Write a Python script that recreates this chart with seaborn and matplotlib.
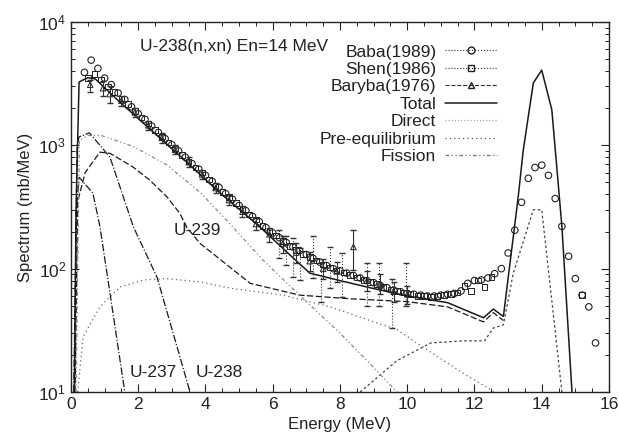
import numpy as np
import pandas as pd
import matplotlib
matplotlib.use("Agg")
import matplotlib.pyplot as plt
import seaborn as sns
from matplotlib.lines import Line2D
from matplotlib.ticker import MultipleLocator, LogLocator, LogFormatterMathtext, NullFormatter

# ---------------- data ----------------
baba_E = [0.4, 0.6, 0.8, 1.0, 1.2, 1.4, 1.6, 1.8, 2.0, 2.2, 2.4, 2.6, 2.8, 3.0, 3.2, 3.4, 3.6, 3.8,
          4.0, 4.2, 4.4, 4.6, 4.8, 5.0, 5.2, 5.4, 5.6, 5.8, 6.0, 6.2, 6.4, 6.6, 6.8, 7.0, 7.2, 7.4,
          7.6, 7.8, 8.0, 8.2, 8.4, 8.6, 8.8, 9.0, 9.2, 9.4, 9.6, 9.8, 10.0, 10.2, 10.4, 10.6, 10.8,
          11.0, 11.2, 11.4, 11.6, 11.8, 12.0, 12.2, 12.4, 12.6, 12.8, 13.0, 13.2, 13.4, 13.6, 13.8,
          14.0, 14.2, 14.4, 14.6, 14.8, 15.0, 15.2, 15.4, 15.6]
baba_Y = [3900, 4900, 4200, 3500, 3100, 2650, 2350, 2050, 1800, 1620, 1430, 1270, 1130, 1010, 900, 800,
          710, 640, 570, 510, 455, 405, 365, 325, 295, 265, 240, 215, 195, 178, 163, 150, 140, 130,
          121, 113, 106, 100, 96, 92, 88, 84, 80, 77, 73, 70, 67, 65, 63, 62, 61, 60, 60, 61, 62, 63,
          66, 76, 80, 81, 84, 91, 100, 134, 205, 345, 540, 660, 690, 570, 370, 220, 126, 83, 61, 49, 25]

shen_E = [0.5, 0.7, 0.9, 1.1, 1.3, 1.5, 1.7, 1.9, 2.1, 2.3, 2.5, 2.7, 2.9, 3.1, 3.3, 3.5, 3.7, 3.9,
          4.1, 4.3, 4.5, 4.7, 4.9, 5.1, 5.3, 5.5, 5.7, 5.9, 6.1, 6.3, 6.5, 6.7, 6.9, 7.1, 7.3, 7.5,
          7.7, 7.9, 8.1, 8.3, 8.5, 8.7, 8.9, 9.1, 9.3, 9.5, 9.7, 9.9, 10.1, 10.3, 10.5, 10.7, 10.9,
          11.1, 11.3, 11.5, 11.7, 11.9, 12.1, 12.3, 12.5, 15.2]
shen_Y = [3500, 3800, 3400, 3000, 2700, 2400, 2150, 1900, 1680, 1500, 1330, 1180, 1050, 940, 830, 740,
          660, 600, 530, 470, 420, 380, 340, 305, 275, 250, 222, 202, 185, 168, 152, 142, 132, 124,
          116, 108, 102, 97, 93, 89, 85, 81, 78, 75, 71, 68, 66, 64, 62, 60, 60, 59, 60, 61, 62, 64,
          72, 66, 80, 71, 86, 61]

shen_err_E = [6.2, 6.4, 6.6, 6.8, 7.2, 7.45, 7.7, 8.05, 8.8, 9.15, 9.55, 9.97]
shen_err_lo = [123, 107, 85, 81, 84, 54, 70, 59, 50, 50, 33, 50]
shen_err_hi = [205, 185, 177, 148, 185, 112, 150, 135, 112, 112, 83, 112]
shen_err_Y = [160, 140, 125, 110, 125, 80, 102, 95, 80, 81, 63, 81]

baryba_E = [0.57, 0.95, 1.15, 1.5, 1.9, 2.3, 2.7, 3.1, 3.5, 3.9, 4.3, 4.7, 5.1, 5.5, 5.9, 6.3,
            6.7, 7.1, 7.5, 7.9, 8.4, 8.8, 9.2, 9.6, 10.0]
baryba_Y = [3100, 2900, 2600, 2300, 1850, 1450, 1150, 920, 730, 580, 450, 360, 290, 230, 190, 160,
            135, 115, 100, 95, 150, 80, 75, 65, 62]
baryba_lo = [2700, 2500, 2200, 2100, 1700, 1330, 1050, 850, 670, 530, 410, 330, 260, 205, 165, 135,
             112, 95, 82, 78, 98, 66, 62, 54, 52]
baryba_hi = [3400, 3300, 3000, 2500, 2000, 1580, 1250, 1000, 800, 630, 490, 395, 320, 255, 215, 185,
             160, 137, 120, 113, 205, 96, 90, 78, 73]

total_E = [0.1, 0.15, 0.24, 0.5, 0.72, 1.37, 2.35, 3.33, 4.35, 5.6, 6.5, 7.1, 8.0, 8.9, 10.0, 11.2,
           12.27, 12.56, 12.86, 13.3, 13.45, 13.75, 14.0, 14.3, 14.6, 14.9]
total_Y = [10, 300, 3260, 3530, 3450, 2350, 1350, 780, 430, 220, 130, 92, 80, 70, 60, 53, 40, 47, 41,
           380, 910, 3200, 4070, 1940, 220, 10]

u239_E = [0.12, 0.2, 0.42, 0.86, 1.16, 1.85, 2.35, 2.86, 3.24, 3.45, 3.84, 4.35, 4.82, 5.33, 6.8,
          8.3, 10.0, 11.2, 12.27, 12.56, 12.86]
u239_Y = [10, 350, 600, 880, 860, 665, 520, 380, 280, 215, 160, 124, 98, 76, 61, 57, 54, 49, 37, 44, 38]

u238_E = [0.1, 0.18, 0.24, 0.55, 1.16, 1.85, 2.56, 3.54]
u238_Y = [10, 1000, 1170, 1260, 800, 220, 85, 10]

u237_E = [0.08, 0.16, 0.24, 0.65, 0.86, 1.16, 1.6]
u237_Y = [10, 300, 550, 410, 220, 63, 10]

direct_E = [8.6, 9.7, 10.7, 11.7, 12.3, 12.56, 12.86, 13.15, 13.75, 14.0, 14.3, 14.6]
direct_Y = [10, 18, 25, 26, 26, 33, 35, 91, 300, 300, 55, 10]

preeq_E = [0.2, 0.36, 0.86, 1.46, 2.15, 2.86, 3.84, 4.8, 6.3, 7.7, 9.7, 10.7, 11.7, 12.6]
preeq_Y = [10, 28, 49, 71, 81, 83, 78, 69, 61, 49, 32, 21, 14, 10]

fission_E = [0.15, 0.25, 0.5, 0.9, 1.85, 2.86, 3.84, 4.7, 5.7, 7.0, 8.0, 8.8, 9.7]
fission_Y = [10, 1100, 1200, 1200, 980, 690, 415, 235, 118, 54, 30, 18, 10]

# ---------------- style ----------------
sns.set_theme(style="ticks")
plt.rcParams["font.family"] = ["Liberation Sans", "DejaVu Sans"]
plt.rcParams["mathtext.fontset"] = "custom"
plt.rcParams["mathtext.rm"] = "Liberation Sans"
plt.rcParams["mathtext.it"] = "Liberation Sans:italic"

fig = plt.figure(figsize=(6.19, 4.47), dpi=100)
ax = fig.add_axes([0.1147, 0.123, 0.8691, 0.828])
ax.set_yscale("log")

K = "#1a1a1a"
# curves
sns.lineplot(x=total_E, y=total_Y, ax=ax, color=K, lw=1.1, sort=False, label="_t")
sns.lineplot(x=u239_E, y=u239_Y, ax=ax, color=K, lw=0.9, sort=False, linestyle=(0, (5, 2)), label="_u9")
sns.lineplot(x=u238_E, y=u238_Y, ax=ax, color=K, lw=0.9, sort=False, linestyle=(0, (6, 1.5, 1, 1.5)), label="_u8")
sns.lineplot(x=u237_E, y=u237_Y, ax=ax, color=K, lw=0.9, sort=False, linestyle=(0, (6, 1.5, 1, 1.5)), label="_u7")
sns.lineplot(x=direct_E, y=direct_Y, ax=ax, color="#444444", lw=0.9, sort=False, linestyle=(0, (2, 2)), label="_d")
sns.lineplot(x=preeq_E, y=preeq_Y, ax=ax, color="#666666", lw=0.9, sort=False, linestyle=(0, (1, 2.5)), label="_p")
sns.lineplot(x=fission_E, y=fission_Y, ax=ax, color="#888888", lw=0.9, sort=False, linestyle=(0, (3, 2, 1, 2, 1, 2)), label="_f")

# experimental data
ax.errorbar(shen_err_E, shen_err_Y,
            yerr=[np.array(shen_err_Y) - np.array(shen_err_lo), np.array(shen_err_hi) - np.array(shen_err_Y)],
            fmt="none", ecolor="#333333", elinewidth=0.8, capsize=2, linestyle=":")
for c in ax.collections[-1:]:
    c.set_linestyle(":")
ax.errorbar(baryba_E, baryba_Y,
            yerr=[np.array(baryba_Y) - np.array(baryba_lo), np.array(baryba_hi) - np.array(baryba_Y)],
            fmt="none", ecolor="#333333", elinewidth=0.8, capsize=2)
sns.scatterplot(x=shen_E, y=shen_Y, ax=ax, marker="s", s=16, facecolor="none", edgecolor="#222222", linewidth=0.7)
sns.scatterplot(x=baryba_E, y=baryba_Y, ax=ax, marker="^", s=16, facecolor="none", edgecolor="#222222", linewidth=0.7)
sns.scatterplot(x=baba_E, y=baba_Y, ax=ax, marker="o", s=22, facecolor="none", edgecolor="#222222", linewidth=0.8)

# axes
ax.set_xlim(0, 16)
ax.set_ylim(10, 1e4)
ax.xaxis.set_major_locator(MultipleLocator(2))
ax.xaxis.set_minor_locator(MultipleLocator(0.5))
ax.yaxis.set_major_locator(LogLocator(base=10))
ax.yaxis.set_minor_locator(LogLocator(base=10, subs=np.arange(2, 10)))
ax.yaxis.set_major_formatter(LogFormatterMathtext())
ax.yaxis.set_minor_formatter(NullFormatter())
ax.tick_params(which="both", direction="in", top=True, right=True, colors="#222222", labelsize=12.5)
ax.tick_params(which="major", length=6, width=0.8)
ax.tick_params(which="minor", length=3, width=0.7)
for s in ax.spines.values():
    s.set_linewidth(1.0)
    s.set_color("#222222")
ax.set_xlabel("Energy (MeV)", fontsize=12, color="#222222")
ax.set_ylabel("Spectrum (mb/MeV)", fontsize=12, color="#222222")

# annotations
ax.text(2.05, 6300, "U-238(n,xn) En=14 MeV", fontsize=12.5, va="center", ha="left", color="#222222")
ax.text(3.04, 205, "U-239", fontsize=12.5, va="center", ha="left", color="#222222")
ax.text(1.73, 14.5, "U-237", fontsize=12.5, va="center", ha="left", color="#222222")
ax.text(3.72, 14.5, "U-238", fontsize=12.5, va="center", ha="left", color="#222222")

handles = [
    Line2D([], [], color="#333333", lw=0.8, ls=":", marker="o", mfc="none", mec="#222222", ms=5),
    Line2D([], [], color="#333333", lw=0.8, ls=":", marker="s", mfc="none", mec="#222222", ms=4.5),
    Line2D([], [], color="#333333", lw=0.8, ls="--", marker="^", mfc="none", mec="#222222", ms=4.5),
    Line2D([], [], color=K, lw=1.1),
    Line2D([], [], color="#aaaaaa", lw=0.9, ls=(0, (1, 1.5))),
    Line2D([], [], color="#555555", lw=0.9, ls=(0, (1, 2.5))),
    Line2D([], [], color="#777777", lw=0.9, ls=(0, (3, 2, 1, 2, 1, 2))),
]
labels = ["Baba(1989)", "Shen(1986)", "Baryba(1976)", "Total", "Direct", "Pre-equilibrium", "Fission"]
leg = ax.legend(handles, labels, loc="upper right", bbox_to_anchor=(0.805, 0.958), frameon=False,
                markerfirst=False, fontsize=12.5, handlelength=3.0, handletextpad=0.5,
                labelspacing=0.13, borderaxespad=0.0)
for t in leg.get_texts():
    t.set_color("#222222")

fig.savefig("out.png", dpi=100)
